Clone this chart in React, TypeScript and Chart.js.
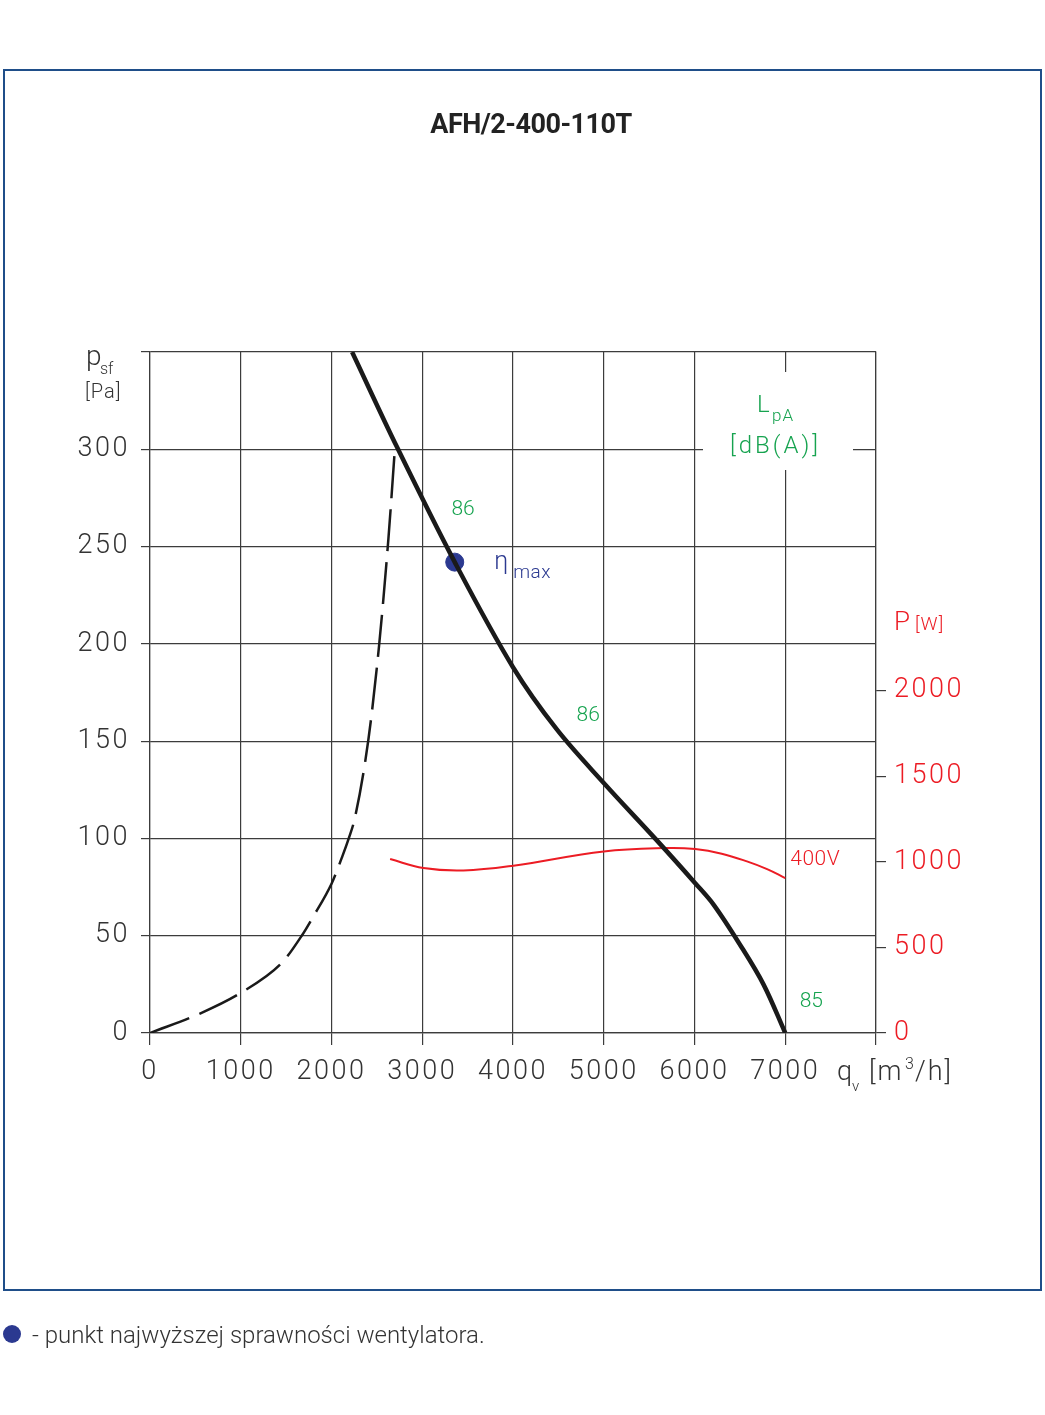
import { useEffect, useRef } from 'react';
import Chart from 'chart.js/auto';

// flow q [m3/h] vs static pressure psf [Pa] - fan curve
const Q_MAIN = [2227, 2723, 3358, 4000, 4483, 5000, 5585, 6008, 6210, 6500, 6760, 7000];
const P_MAIN = [350, 301, 242, 188, 156, 128.5, 99, 77, 66, 45.5, 25, 0];

// unstable zone (dashed)
const Q_DASH = [0, 551, 992, 1451, 1672, 1801, 2003, 2113, 2190, 2260, 2407, 2524, 2627, 2701];
const P_DASH = [0, 10, 20.4, 36, 50, 60, 77, 90, 100, 111, 151, 199, 254, 302];

// power input P [W], 400V
const Q_POWER = [2646, 3013, 3454, 4004, 5000, 5696, 6008, 6300, 6578, 6800, 7000];
const W_POWER = [1016, 963, 949, 977, 1060, 1080, 1074, 1047, 1002, 957, 905];

// max efficiency point
const ETA_MAX = { q: 3358, p: 242 };

// noise level labels LpA
const LPA_LABELS = ['86', '86', '85'];
const LPA_Q = [3450, 4828, 7287];
const LPA_P = [271, 165, 18];

const X_TICKS = [0, 1000, 2000, 3000, 4000, 5000, 6000, 7000, 8000];
const W_TICKS = [0, 500, 1000, 1500, 2000];

const FONT = 'Roboto, "Noto Sans", sans-serif';
const GRID = '#3c3c3c';
const RED = '#ec1c24';
const GREEN = '#16a34f';
const BLUE = '#2b3990';

const zip = (xs: number[], ys: number[]) => xs.map((x, i) => ({ x, y: ys[i] }));

const extras = {
  id: 'extras',
  beforeDraw(chart: any) {
    chart.ctx.letterSpacing = '2.5px';
  },
  beforeDatasetsDraw(chart: any) {
    const ctx = chart.ctx;
    ctx.save();
    ctx.fillStyle = '#fff';
    ctx.fillRect(703, 372, 150, 98); // gap in grid behind LpA label
    ctx.restore();
  },
  afterDraw(chart: any) {
    const ctx = chart.ctx;
    const x = chart.scales.x;
    const y = chart.scales.y;
    const y2 = chart.scales.y2;
    const txt = (s: string, px: number, py: number, font: string, color: string, align: CanvasTextAlign = 'left', ls = '0px') => {
      ctx.font = font;
      ctx.fillStyle = color;
      ctx.textAlign = align;
      ctx.textBaseline = 'alphabetic';
      ctx.letterSpacing = ls;
      ctx.fillText(s, px, py);
    };
    ctx.save();

    // frame
    ctx.strokeStyle = '#1f4e89';
    ctx.lineWidth = 2;
    ctx.strokeRect(4, 70, 1037, 1220);

    txt('AFH/2-400-110T', 531, 133, `bold 27px ${FONT}`, '#222', 'center', '-0.5px');

    // left axis title
    txt('p', 86, 365, `300 28px ${FONT}`, '#333');
    txt('sf', 100, 374, `300 16px ${FONT}`, '#333');
    txt('[Pa]', 85, 398, `300 20px ${FONT}`, '#333', 'left', '1px');

    // LpA title
    txt('L', 757, 412, `300 24px ${FONT}`, GREEN);
    txt('pA', 772, 421, `300 17px ${FONT}`, GREEN, 'left', '1px');
    txt('[dB(A)]', 730, 453, `300 24px ${FONT}`, GREEN, 'left', '3px');

    // P [W]
    txt('P', 894, 630, `300 26px ${FONT}`, RED);
    txt('[W]', 915, 630, `300 19px ${FONT}`, RED, 'left', '1px');

    // x axis title
    txt('q', 837, 1080, `300 27px ${FONT}`, '#333');
    txt('v', 852, 1091, `300 15px ${FONT}`, '#333');
    txt('[m', 869, 1080, `300 27px ${FONT}`, '#333', 'left', '2px');
    txt('3', 905, 1069, `300 16px ${FONT}`, '#333');
    txt('/h]', 915, 1080, `300 27px ${FONT}`, '#333', 'left', '2px');

    // LpA values
    LPA_LABELS.forEach((s, i) => {
      txt(s, x.getPixelForValue(LPA_Q[i]), y.getPixelForValue(LPA_P[i]) + 9, `300 21px ${FONT}`, GREEN, 'center');
    });

    // eta max label
    const ex = x.getPixelForValue(3870);
    const ey = y.getPixelForValue(ETA_MAX.p);
    txt('η', ex - 7, ey + 7, `300 25px ${FONT}`, BLUE);
    txt('max', ex + 12, ey + 16, `300 19px ${FONT}`, BLUE, 'left', '0.5px');

    // 400V
    txt('400V', x.getPixelForValue(7055), y2.getPixelForValue(1029) + 8, `300 21px ${FONT}`, RED, 'left', '0.5px');

    // footnote
    ctx.fillStyle = BLUE;
    ctx.beginPath();
    ctx.arc(12, 1334, 9, 0, Math.PI * 2);
    ctx.fill();
    txt('- punkt najwyższej sprawności wentylatora.', 32, 1343, `300 24px ${FONT}`, '#333');

    ctx.restore();
  },
};

const App = () => {
  const chartRef = useRef<HTMLCanvasElement | null>(null);

  useEffect(() => {
    if (!chartRef.current) return;
    const ctx = chartRef.current.getContext('2d');
    if (!ctx) return;

    const chart = new Chart(ctx, {
      type: 'line',
      data: {
        datasets: [
          {
            data: zip(Q_DASH, P_DASH),
            borderColor: '#1a1a1a',
            borderWidth: 2.5,
            borderDash: [42, 11],
            pointRadius: 0,
            cubicInterpolationMode: 'monotone',
            yAxisID: 'y',
          },
          {
            data: zip(Q_MAIN, P_MAIN),
            borderColor: '#1a1a1a',
            borderWidth: 4.5,
            pointRadius: 0,
            tension: 0.35,
            yAxisID: 'y',
          },
          {
            data: zip(Q_POWER, W_POWER),
            borderColor: RED,
            borderWidth: 2,
            pointRadius: 0,
            tension: 0.4,
            yAxisID: 'y2',
          },
          {
            data: [{ x: ETA_MAX.q, y: ETA_MAX.p }],
            borderColor: BLUE,
            backgroundColor: BLUE,
            pointRadius: 9,
            showLine: false,
            yAxisID: 'y',
          },
        ],
      },
      options: {
        responsive: false,
        animation: false,
        devicePixelRatio: 1,
        layout: { padding: { top: 352, left: 0, right: 0, bottom: 0 } },
        plugins: { legend: { display: false }, tooltip: { enabled: false }, title: { display: false } },
        scales: {
          x: {
            type: 'linear',
            min: 0,
            max: 8000,
            afterBuildTicks: (s: any) => { s.ticks = X_TICKS.map((v) => ({ value: v })); },
            afterFit: (s: any) => { s.height = 1415 - 1033; },
            ticks: {
              callback: (v: any) => (v === 8000 ? '' : String(v)),
              color: '#333',
              font: { family: FONT, size: 27, weight: 300 },
              padding: 11,
              maxRotation: 0,
              autoSkip: false,
            },
            grid: { color: GRID, lineWidth: 1.2, tickLength: 12 },
            border: { color: GRID, width: 1.2 },
          },
          y: {
            min: 0,
            max: 350,
            afterFit: (s: any) => { s.width = 150; },
            ticks: {
              stepSize: 50,
              callback: (v: any) => (v === 350 ? '' : String(v)),
              color: '#333',
              font: { family: FONT, size: 27, weight: 300 },
              padding: 11,
            },
            grid: { color: GRID, lineWidth: 1.2, tickLength: 9 },
            border: { color: GRID, width: 1.2 },
          },
          y2: {
            position: 'right',
            min: 0,
            max: 3977,
            afterBuildTicks: (s: any) => { s.ticks = W_TICKS.map((v) => ({ value: v })); },
            afterFit: (s: any) => { s.width = 1045 - 876; },
            ticks: {
              callback: (v: any) => String(v),
              color: RED,
              font: { family: FONT, size: 27, weight: 300 },
              padding: 8,
            },
            grid: { drawOnChartArea: false, color: GRID, lineWidth: 1.2, tickLength: 10 },
            border: { color: GRID, width: 1.2 },
          },
        },
      },
      plugins: [extras],
    } as any);

    return () => {
      chart.destroy();
    };
  }, []);

  return (
    <div style={{ position: 'absolute', left: 0, top: 0, width: 1045, height: 1415, background: '#fff' }}>
      <canvas ref={chartRef} width={1045} height={1415}></canvas>
    </div>
  );
};

export default App;
